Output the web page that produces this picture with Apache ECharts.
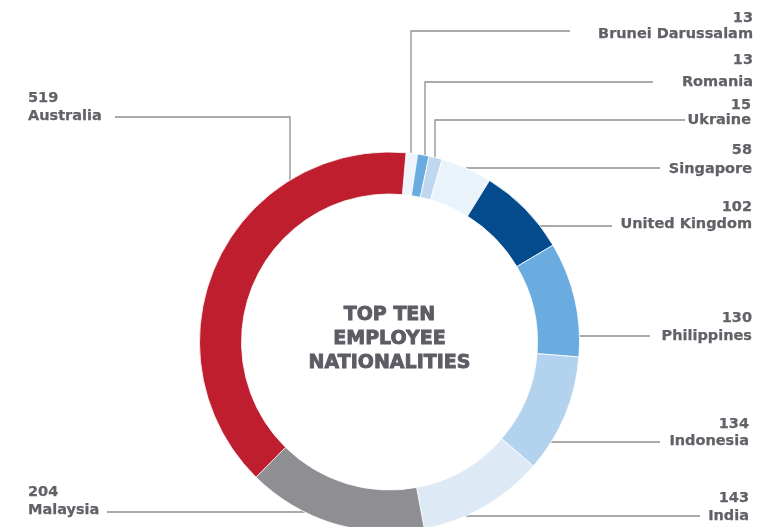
<!DOCTYPE html>
<html>
<head>
<meta charset="utf-8">
<script src="https://cdn.jsdelivr.net/npm/echarts@6/dist/echarts.min.js"></script>
<style>html,body{margin:0;padding:0;background:#fff}#c{width:762px;height:527px}</style>
</head>
<body>
<div id="c"></div>
<script>
// ---- data ----
const categories = ['Brunei Darussalam','Romania','Ukraine','Singapore','United Kingdom','Philippines','Indonesia','India','Malaysia','Australia'];
const values = [13, 13, 15, 58, 102, 130, 134, 143, 204, 519];
const centerTitle = ['TOP TEN', 'EMPLOYEE', 'NATIONALITIES'];

// ---- styles ----
const colors = ['#eef4fb','#6aabdf','#c0d8ef','#eaf2fa','#034b8c','#6aacdf','#b3d2ee','#dee9f6','#8f8e93','#be1e2d'];
const textColor = '#616167';
const lineColor = '#8e8e8e';
const FONT = '"DejaVu Sans", sans-serif';

// ---- layout ----
const CX = 389.5, CY = 342, R_IN = 148, R_OUT = 190;
const labelSide   = ['r','r','r','r','r','r','r','r','l','l'];
const labelEdgeX  = [753, 753, 751, 752, 752, 752, 749, 749, 28, 28];
const valueY      = [18.7, 60, 105.5, 150.5, 207, 318.7, 424.7, 498, 492, 98];
const nameY       = [34.7, 82, 120, 169, 224.7, 336.2, 441.7, 515.8, 510.5, 116.2];
const leaderStartX = [570, 653, 685, 660, 612, 650, 660, 700, 107, 115];
const leaderY      = [31, 82, 120, 168, 226, 336, 442, 516, 512, 117];
const leaderElbowX = [411, 425, 435, null, null, null, null, null, null, 290];

function leaderPoints(i) {
  const sx = leaderStartX[i], y = leaderY[i], ex = leaderElbowX[i];
  if (ex != null) {
    const ey = CY - Math.sqrt(R_OUT * R_OUT - (ex - CX) * (ex - CX));
    return [[sx, y], [ex, y], [ex, ey]];
  }
  const dx = Math.sqrt(Math.max(0, R_OUT * R_OUT - (y - CY) * (y - CY)));
  const endX = labelSide[i] === 'r' ? CX + dx : CX - dx;
  return [[sx, y], [(sx + endX) / 2, y], [endX, y]];
}

const data = categories.map((name, i) => {
  const gap = nameY[i] - valueY[i];
  const base = { fontFamily: FONT, fontSize: 14.5, fontWeight: 'bold', color: textColor, lineHeight: gap,
                 textBorderColor: textColor, textBorderWidth: 0.25 };
  return {
    name: name,
    value: values[i],
    itemStyle: { color: colors[i] },
    label: { rich: { v: Object.assign({}, base), n: Object.assign({}, base) } }
  };
});

const chart = echarts.init(document.getElementById('c'), null, { renderer: 'canvas' });
chart.setOption({
  animation: false,
  backgroundColor: '#ffffff',
  graphic: [{
    type: 'text',
    x: CX,
    y: 339,
    silent: true,
    style: {
      text: centerTitle.join('\n'),
      align: 'center',
      verticalAlign: 'middle',
      fontFamily: FONT,
      fontSize: 19,
      fontWeight: 'bold',
      lineHeight: 24,
      fill: '#5c5d64',
      stroke: '#5c5d64',
      lineWidth: 0.9
    }
  }],
  series: [{
    type: 'pie',
    center: [CX, CY],
    radius: [R_IN, R_OUT],
    startAngle: 85,
    clockwise: true,
    avoidLabelOverlap: false,
    emphasis: { disabled: true },
    itemStyle: { borderColor: '#ffffff', borderWidth: 0.8 },
    label: {
      show: true,
      position: 'outside',
      formatter: p => '{v|' + p.value + '}\n{n|' + p.name + '}'
    },
    labelLine: {
      show: true,
      length: 10,
      length2: 10,
      lineStyle: { color: lineColor, width: 1.3 }
    },
    labelLayout: function (params) {
      const i = params.dataIndex;
      const gap = nameY[i] - valueY[i];
      return {
        x: labelEdgeX[i],
        y: valueY[i] - gap / 2,
        align: labelSide[i] === 'r' ? 'right' : 'left',
        verticalAlign: 'top',
        labelLinePoints: leaderPoints(i)
      };
    },
    data: data
  }]
});
</script>
</body>
</html>
